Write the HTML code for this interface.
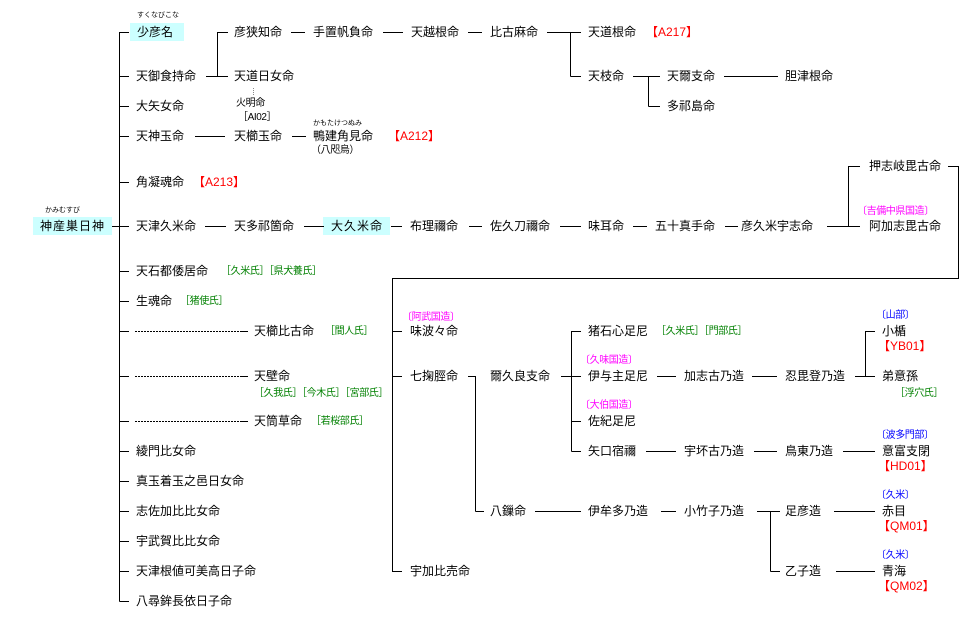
<!DOCTYPE html>
<html><head><meta charset="utf-8"><style>
body{margin:0;width:962px;height:627px;background:#fff;position:relative;overflow:hidden;font-family:"Liberation Sans","Noto Sans CJK JP",sans-serif}
.t{position:absolute;font-size:12px;line-height:16px;white-space:nowrap;color:#000}
.s{position:absolute;font-size:10px;line-height:14px;white-space:nowrap;letter-spacing:-0.4px}
.r{position:absolute;font-size:7px;line-height:8px;white-space:nowrap}
.red{color:#ff0000}.g{color:#008000}.m{color:#ff00ff}.b{color:#0000ff}
.box{position:absolute;background:#ccffff}
svg{position:absolute;left:0;top:0}
</style></head><body>
<div class="box" style="left:130px;top:23px;width:54px;height:18px"></div>
<div class="box" style="left:33px;top:217px;width:79px;height:18px"></div>
<div class="box" style="left:323px;top:217px;width:67px;height:18px"></div>
<svg width="962" height="627" stroke="#000" stroke-width="1" fill="none" shape-rendering="crispEdges">
<path d="M119.5 32V601.5M119.5 32.5H129M119.5 76.5H129M119.5 106.5H129M119.5 136.5H129M119.5 182.5H129M112 226.5H129M119.5 271.5H129M119.5 301.5H129M119.5 331.5H129M119.5 376.5H129M119.5 421.5H129M119.5 451.5H129M119.5 481.5H129M119.5 511.5H129M119.5 541.5H129M119.5 571.5H129M119.5 601.5H129"/>
<path d="M206 76.5H228M217.5 32V76.5M217.5 32.5H228M291 32.5H305M383 32.5H403M468 32.5H482M547 32.5H581M570.5 32V76.5M570.5 76.5H581M633 76.5H660M648.5 76V106.5M648.5 106.5H660M724 76.5H778"/>
<path d="M195 136.5H225M292 136.5H306"/>
<path d="M205 226.5H226M304 226.5H324M391 226.5H402M469 226.5H482M560 226.5H581M633 226.5H647M725 226.5H738M827 226.5H860M848.5 166V226.5M848.5 166.5H860M948 166.5H958.5V278.5H392.5V571.5H402M392.5 331.5H402M392.5 376.5H402"/>
<path d="M240 331.5H248M240 376.5H248M240 421.5H248"/>
<path d="M135 331.5H240M135 376.5H240M135 421.5H240" stroke-dasharray="2,1"/>
<path d="M468 376.5H475.5M475.5 376V511.5M475.5 511.5H484M561 376.5H581M571.5 331V451.5M571.5 331.5H581M571.5 421.5H581M571.5 451.5H581M657 376.5H676M752 376.5H777M855 376.5H875M865.5 331V376.5M865.5 331.5H875"/>
<path d="M646 451.5H676M754 451.5H777M843 451.5H875M535 511.5H581M661 511.5H676M757 511.5H780M770.5 511V571.5M770.5 571.5H780M834 511.5H875M836 571.5H875"/>
</svg>
<div class="r" style="left:137px;top:12px">すくなびこな</div>
<div class="t" style="left:137px;top:24px">少彦名</div>
<div class="t" style="left:234px;top:24px">彦狭知命</div>
<div class="t" style="left:313px;top:24px">手置帆負命</div>
<div class="t" style="left:411px;top:24px">天越根命</div>
<div class="t" style="left:490px;top:24px">比古麻命</div>
<div class="t" style="left:588px;top:24px">天道根命</div>
<div class="t red" style="left:646px;top:24px">【A217】</div>
<div class="t" style="left:136px;top:68px">天御食持命</div>
<div class="t" style="left:234px;top:68px">天道日女命</div>
<div class="t" style="left:588px;top:68px">天枝命</div>
<div class="t" style="left:667px;top:68px">天爾支命</div>
<div class="t" style="left:785px;top:68px">胆津根命</div>
<div class="t" style="left:667px;top:98px">多祁島命</div>
<svg width="962" height="627"><path d="M253.5 88V96" stroke="#888" stroke-dasharray="1,1"/></svg>
<div class="s" style="left:236px;top:97px">火明命</div>
<div class="s" style="left:238px;top:111px">［AI02］</div>
<div class="t" style="left:136px;top:98px">大矢女命</div>
<div class="t" style="left:136px;top:128px">天神玉命</div>
<div class="t" style="left:234px;top:128px">天櫛玉命</div>
<div class="r" style="left:313px;top:120px">かもたけつぬみ</div>
<div class="t" style="left:313px;top:128px">鴨建角見命</div>
<div class="t red" style="left:388px;top:128px">【A212】</div>
<div class="s" style="left:311px;top:144px">（八咫烏）</div>
<div class="t" style="left:136px;top:174px">角凝魂命</div>
<div class="t red" style="left:193px;top:174px">【A213】</div>
<div class="t" style="left:869px;top:158px">押志岐毘古命</div>
<div class="r" style="left:45px;top:207px">かみむすび</div>
<div class="t" style="left:40px;top:218px;letter-spacing:1px">神産巣日神</div>
<div class="t" style="left:136px;top:218px">天津久米命</div>
<div class="t" style="left:234px;top:218px">天多祁箇命</div>
<div class="t" style="left:331px;top:218px;letter-spacing:1px">大久米命</div>
<div class="t" style="left:410px;top:218px">布理禰命</div>
<div class="t" style="left:490px;top:218px">佐久刀禰命</div>
<div class="t" style="left:588px;top:218px">味耳命</div>
<div class="t" style="left:655px;top:218px">五十真手命</div>
<div class="t" style="left:741px;top:218px">彦久米宇志命</div>
<div class="s m" style="left:857px;top:205px">〔吉備中県国造〕</div>
<div class="t" style="left:869px;top:218px">阿加志毘古命</div>
<div class="t" style="left:136px;top:263px">天石都倭居命</div>
<div class="s g" style="left:221px;top:265px">［久米氏］［県犬養氏］</div>
<div class="t" style="left:136px;top:293px">生魂命</div>
<div class="s g" style="left:180px;top:295px">［猪使氏］</div>
<div class="t" style="left:254px;top:323px">天櫛比古命</div>
<div class="s g" style="left:325px;top:325px">［間人氏］</div>
<div class="t" style="left:254px;top:368px">天壁命</div>
<div class="s g" style="left:254px;top:387px">［久我氏］［今木氏］［宮部氏］</div>
<div class="t" style="left:254px;top:413px">天筒草命</div>
<div class="s g" style="left:311px;top:415px">［若桜部氏］</div>
<div class="t" style="left:136px;top:443px">綾門比女命</div>
<div class="t" style="left:136px;top:473px">真玉着玉之邑日女命</div>
<div class="t" style="left:136px;top:503px">志佐加比比女命</div>
<div class="t" style="left:136px;top:533px">宇武賀比比女命</div>
<div class="t" style="left:136px;top:563px">天津根値可美高日子命</div>
<div class="t" style="left:136px;top:593px">八尋鉾長依日子命</div>
<div class="s m" style="left:402px;top:311px">〔阿武国造〕</div>
<div class="t" style="left:410px;top:323px">味波々命</div>
<div class="t" style="left:410px;top:368px">七掬脛命</div>
<div class="t" style="left:410px;top:563px">宇加比売命</div>
<div class="t" style="left:490px;top:368px">爾久良支命</div>
<div class="t" style="left:588px;top:323px">猪石心足尼</div>
<div class="s g" style="left:656px;top:325px">［久米氏］［門部氏］</div>
<div class="s m" style="left:580px;top:354px">〔久味国造〕</div>
<div class="t" style="left:588px;top:368px">伊与主足尼</div>
<div class="t" style="left:684px;top:368px">加志古乃造</div>
<div class="t" style="left:785px;top:368px">忍毘登乃造</div>
<div class="s b" style="left:876px;top:309px">〔山部〕</div>
<div class="t" style="left:882px;top:323px">小楯</div>
<div class="t red" style="left:878px;top:338px">【YB01】</div>
<div class="t" style="left:882px;top:368px">弟意孫</div>
<div class="s g" style="left:895px;top:387px">［浮穴氏］</div>
<div class="s m" style="left:580px;top:399px">〔大伯国造〕</div>
<div class="t" style="left:588px;top:413px">佐紀足尼</div>
<div class="t" style="left:588px;top:443px">矢口宿禰</div>
<div class="t" style="left:684px;top:443px">宇坏古乃造</div>
<div class="t" style="left:785px;top:443px">鳥東乃造</div>
<div class="s b" style="left:876px;top:429px">〔波多門部〕</div>
<div class="t" style="left:882px;top:443px">意富支閉</div>
<div class="t red" style="left:878px;top:458px">【HD01】</div>
<div class="t" style="left:490px;top:503px">八鏁命</div>
<div class="t" style="left:588px;top:503px">伊牟多乃造</div>
<div class="t" style="left:684px;top:503px">小竹子乃造</div>
<div class="t" style="left:785px;top:503px">足彦造</div>
<div class="s b" style="left:876px;top:489px">〔久米〕</div>
<div class="t" style="left:882px;top:503px">赤目</div>
<div class="t red" style="left:878px;top:518px">【QM01】</div>
<div class="t" style="left:785px;top:563px">乙子造</div>
<div class="s b" style="left:876px;top:549px">〔久米〕</div>
<div class="t" style="left:882px;top:563px">青海</div>
<div class="t red" style="left:878px;top:578px">【QM02】</div>
</body></html>
